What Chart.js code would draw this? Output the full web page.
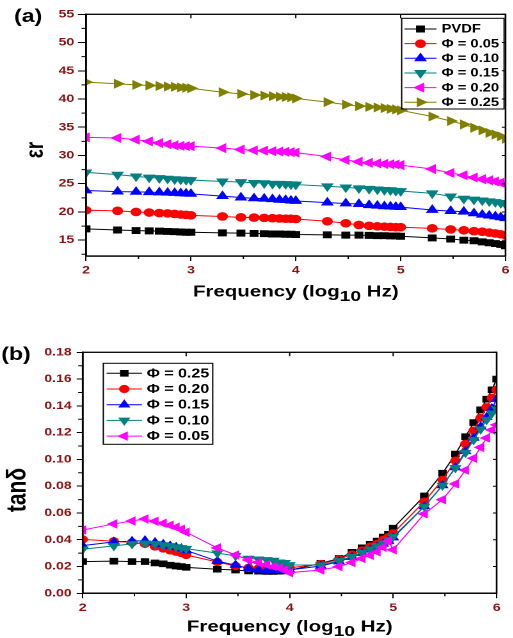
<!DOCTYPE html>
<html>
<head>
<meta charset="utf-8">
<script src="https://cdn.jsdelivr.net/npm/chart.js@4"></script>
<style>
html, body { margin: 0; padding: 0; background: #fff; overflow: hidden; }
.panel { position: absolute; left: 0; transform: scaleX(1.28); transform-origin: 0 0; }
</style>
</head>
<body>
<div class="panel" style="top:0"><canvas id="chartA" width="401" height="310"></canvas></div>
<div class="panel" style="top:310px"><canvas id="chartB" width="401" height="328"></canvas></div>
<script>
// x values: log10 of the measured frequencies
var logFreq = [2, 2.301, 2.477, 2.602, 2.699, 2.778, 2.845, 2.903, 2.954,
	3, 3.301, 3.477, 3.602, 3.699, 3.778, 3.845, 3.903, 3.954,
	4, 4.301, 4.477, 4.602, 4.699, 4.778, 4.845, 4.903, 4.954,
	5, 5.301, 5.477, 5.602, 5.699, 5.778, 5.845, 5.903, 5.954, 6];

// (a) dielectric constant
var epsLabels = ["PVDF", "\u03A6 = 0.05", "\u03A6 = 0.10", "\u03A6 = 0.15", "\u03A6 = 0.20", "\u03A6 = 0.25"];
var epsPVDF = [17.0,16.8,16.7,16.65,16.6,16.55,16.5,16.45,16.4,16.4, 16.3,16.25,16.2,16.15,16.1,16.1,16.05,16.05,16.0,
	15.95,15.9,15.9,15.85,15.8,15.8,15.75,15.75,15.7, 15.4,15.2,15.0,14.9,14.7,14.55,14.4,14.25,14.0];
var eps005 = [20.3,20.2,20.0,19.9,19.8,19.75,19.65,19.55,19.5,19.4, 19.2,19.05,19.0,18.95,18.9,18.85,18.8,18.8,18.75,
	18.35,18.0,17.7,17.55,17.45,17.4,17.35,17.3,17.3, 17.1,16.9,16.75,16.6,16.5,16.35,16.2,16.05,15.9];
var eps010 = [23.8,23.6,23.55,23.5,23.45,23.4,23.35,23.3,23.25,23.2, 22.8,22.55,22.4,22.35,22.25,22.15,22.1,22.0,21.95,
	21.65,21.5,21.4,21.2,21.1,21.0,20.95,20.9,20.85, 20.35,20.15,20.05,19.75,19.5,19.35,19.2,19.05,18.9];
var eps015 = [27.0,26.6,26.3,26.1,26.0,25.9,25.8,25.75,25.7,25.65, 25.4,25.3,25.15,25.1,25.0,25.0,24.95,24.9,24.85,
	24.55,24.35,24.2,24.1,24.0,23.9,23.85,23.75,23.7, 23.3,22.75,22.35,22.2,22.05,21.9,21.75,21.6,21.4];
var eps020 = [33.2,33.1,32.8,32.5,32.2,32.0,31.8,31.7,31.65,31.65, 31.3,31.05,30.9,30.85,30.75,30.7,30.65,30.6,30.5,
	29.8,29.2,28.9,28.7,28.6,28.5,28.45,28.4,28.3, 27.6,26.9,26.5,26.1,25.8,25.6,25.4,25.2,24.9];
var eps025 = [43.0,42.7,42.5,42.4,42.3,42.2,42.15,42.05,42.0,41.9, 41.2,40.9,40.7,40.6,40.5,40.4,40.35,40.3,40.1,
	39.45,39.0,38.75,38.6,38.5,38.4,38.25,38.15,38.0, 36.9,36.1,35.5,34.9,34.45,34.0,33.7,33.4,32.95];

// (b) loss tangent
var tanLabels = ["\u03A6 = 0.25", "\u03A6 = 0.20", "\u03A6 = 0.15", "\u03A6 = 0.10", "\u03A6 = 0.05"];
var tan025 = [0.0237,0.024,0.0237,0.0237,0.0227,0.022,0.021,0.0204,0.020,0.0194, 0.018,0.0174,0.0167,0.0165,0.0163,0.0163,0.0165,0.0167,0.0172,
	0.0224,0.026,0.0306,0.034,0.0366,0.039,0.042,0.044,0.0486, 0.0727,0.0897,0.104,0.117,0.1275,0.137,0.145,0.152,0.160];
var tan020 = [0.0403,0.0389,0.038,0.0369,0.0349,0.0334,0.032,0.031,0.030,0.0286, 0.0234,0.0204,0.019,0.0185,0.018,0.018,0.0182,0.0185,0.019,
	0.0219,0.0254,0.029,0.032,0.0349,0.037,0.040,0.042,0.0448, 0.0685,0.0847,0.099,0.1116,0.1215,0.131,0.139,0.146,0.152];
var tan015 = [0.0356,0.0384,0.0389,0.0394,0.038,0.0366,0.0354,0.0344,0.0334,0.032, 0.024,0.021,0.0187,0.0175,0.017,0.017,0.017,0.0172,0.0175,
	0.0204,0.0237,0.027,0.030,0.0324,0.0346,0.0369,0.039,0.0416, 0.0648,0.0805,0.094,0.106,0.116,0.1245,0.1315,0.138,0.145];
var tan010 = [0.0329,0.0354,0.0369,0.0374,0.0369,0.0361,0.0354,0.0346,0.0339,0.0334, 0.030,0.028,0.026,0.0254,0.025,0.0245,0.0232,0.0228,0.0212,
	0.021,0.0244,0.0274,0.0304,0.033,0.0354,0.0374,0.040,0.0423, 0.0648,0.0805,0.0937,0.105,0.1146,0.1225,0.1295,0.1345,0.138];
var tan005 = [0.0473,0.0518,0.054,0.0555,0.0538,0.0523,0.0508,0.0493,0.0478,0.0456, 0.0339,0.0286,0.0249,0.023,0.0214,0.020,0.019,0.0175,0.0154,
	0.0174,0.0199,0.023,0.026,0.0284,0.031,0.0344,0.039,0.0325, 0.0593,0.070,0.0817,0.092,0.1009,0.109,0.116,0.122,0.1258];

// tick labels
var freqTicks = [2, 3, 4, 5, 6];
var freqMinor = [2.5, 3.5, 4.5, 5.5];
var epsTicks = [15, 20, 25, 30, 35, 40, 45, 50, 55];
var epsMinor = [12.5, 17.5, 22.5, 27.5, 32.5, 37.5, 42.5, 47.5, 52.5];
var tanTicks = [0, 0.02, 0.04, 0.06, 0.08, 0.10, 0.12, 0.14, 0.16, 0.18];
var tanMinor = [0.01, 0.03, 0.05, 0.07, 0.09, 0.11, 0.13, 0.15, 0.17];

var TICK_RED = "#8b1212";
var FONT = "'Liberation Sans', Arial, sans-serif";
Chart.defaults.font.family = FONT;

function pts(ys) {
	return ys.map(function (v, i) { return { x: logFreq[i], y: v }; });
}

function series(label, ys, color, style, rot, r, ord) {
	return {
		label: label,
		data: pts(ys),
		borderColor: color,
		backgroundColor: color,
		pointBackgroundColor: color,
		pointBorderColor: color,
		pointStyle: style,
		pointRotation: rot,
		pointRadius: r,
		pointHoverRadius: r,
		pointBorderWidth: 1,
		borderWidth: 1,
		tension: 0,
		order: ord
	};
}

// frame, minor ticks, titles and boxed legend
var decor = {
	id: "decor",
	afterDraw: function (chart, args, o) {
		var ctx = chart.ctx, a = chart.chartArea;
		var xs = chart.scales.x, ys = chart.scales.y;
		ctx.save();
		ctx.strokeStyle = "#000";
		ctx.lineWidth = 1.3;
		ctx.strokeRect(a.left, a.top, a.right - a.left, a.bottom - a.top);

		ctx.lineWidth = 1;
		ctx.beginPath();
		freqMinor.forEach(function (v) {
			var px = xs.getPixelForValue(v);
			ctx.moveTo(px, a.bottom); ctx.lineTo(px, a.bottom + 3);
		});
		o.yMinor.forEach(function (v) {
			var py = ys.getPixelForValue(v);
			ctx.moveTo(a.left, py); ctx.lineTo(a.left - 3.5, py);
		});
		freqTicks.forEach(function (v) {
			var px = xs.getPixelForValue(v);
			ctx.moveTo(px, a.top); ctx.lineTo(px, a.top + 4);
		});
		o.yTicks.forEach(function (v) {
			var py = ys.getPixelForValue(v);
			ctx.moveTo(a.right, py); ctx.lineTo(a.right - 3, py);
		});
		ctx.stroke();

		// x title with subscript
		ctx.fillStyle = "#000";
		ctx.textBaseline = "middle";
		ctx.textAlign = "left";
		var t1 = "Frequency (log", t2 = "10", t3 = " Hz)";
		ctx.font = "bold 16px " + FONT;
		var w1 = ctx.measureText(t1).width, w3 = ctx.measureText(t3).width;
		ctx.font = "bold 15px " + FONT;
		var w2 = ctx.measureText(t2).width;
		var x0 = (a.left + a.right) / 2 - (w1 + w2 + w3) / 2;
		ctx.font = "bold 16px " + FONT;
		ctx.fillText(t1, x0, o.xTitleY);
		ctx.font = "bold 15px " + FONT;
		ctx.fillText(t2, x0 + w1, o.xTitleY + 5);
		ctx.font = "bold 16px " + FONT;
		ctx.fillText(t3, x0 + w1 + w2, o.xTitleY);

		// y title
		ctx.save();
		ctx.translate(o.yTitle.x, o.yTitle.y);
		ctx.rotate(-Math.PI / 2);
		ctx.textAlign = "center";
		ctx.font = o.yTitle.font;
		ctx.fillText(o.yTitle.text, 0, 0);
		ctx.restore();

		// panel letter
		ctx.textAlign = "center";
		ctx.font = "bold 18px " + FONT;
		ctx.fillText(o.panel.text, o.panel.x, o.panel.y);

		// legend
		var L = o.legend;
		ctx.lineWidth = 1;
		ctx.strokeStyle = "#000";
		ctx.strokeRect(L.left, L.top, L.right - L.left, L.bottom - L.top);
		chart.data.datasets.forEach(function (ds, i) {
			var y = L.y0 + i * L.dy;
			ctx.strokeStyle = ds.borderColor;
			ctx.fillStyle = ds.backgroundColor;
			ctx.beginPath();
			ctx.moveTo(L.x0, y); ctx.lineTo(L.x1, y);
			ctx.stroke();
			Chart.helpers.drawPoint(ctx, {
				pointStyle: ds.pointStyle, rotation: ds.pointRotation,
				radius: ds.pointRadius, borderWidth: 1
			}, (L.x0 + L.x1) / 2, y);
			ctx.fillStyle = "#000";
			ctx.textAlign = "left";
			ctx.font = L.font;
			ctx.fillText(ds.label, L.tx, y + 0.5);
		});
		ctx.restore();
	}
};

function xScale(h) {
	return {
		type: "linear", min: 2, max: 6,
		afterBuildTicks: function (s) { s.ticks = freqTicks.map(function (v) { return { value: v }; }); },
		afterFit: function (s) { s.height = h; },
		grid: { drawOnChartArea: false, drawTicks: true, tickLength: 5, color: "#000", lineWidth: 1 },
		border: { display: true, color: "#000", width: 1.3 },
		ticks: { color: TICK_RED, padding: 3, maxRotation: 0, autoSkip: false, font: { size: 11, weight: "bold" } }
	};
}

function yScale(min, max, tickVals, w, tickLen, pad, fmt) {
	return {
		type: "linear", min: min, max: max,
		afterBuildTicks: function (s) { s.ticks = tickVals.map(function (v) { return { value: v }; }); },
		afterFit: function (s) { s.width = w; },
		grid: { drawOnChartArea: false, drawTicks: true, tickLength: tickLen, color: "#000", lineWidth: 1 },
		border: { display: true, color: "#000", width: 1.3 },
		ticks: { color: TICK_RED, padding: pad, autoSkip: false, font: { size: 11, weight: "bold" }, callback: fmt }
	};
}

new Chart(document.getElementById("chartA"), {
	type: "line",
	data: {
		datasets: [
			series(epsLabels[0], epsPVDF, "#000000", "rect", 0, 4.2, 6),
			series(epsLabels[1], eps005, "#ff0000", "circle", 0, 3.8, 5),
			series(epsLabels[2], eps010, "#0000ff", "triangle", 0, 4.8, 4),
			series(epsLabels[3], eps015, "#008080", "triangle", 180, 4.8, 3),
			series(epsLabels[4], eps020, "#ff00ff", "triangle", 270, 4.8, 2),
			series(epsLabels[5], eps025, "#808000", "triangle", 90, 4.8, 1)
		]
	},
	options: {
		responsive: false,
		animation: false,
		devicePixelRatio: 2,
		layout: { padding: { left: 0, right: 3.3, top: 14.3, bottom: 0 } },
		scales: {
			x: xScale(54),
			y: yScale(12.2, 55, epsTicks, 67.2, 6.3, 2.9, function (v) { return String(v); })
		},
		plugins: {
			legend: { display: false },
			tooltip: { enabled: false },
			decor: {
				yTicks: epsTicks, yMinor: epsMinor, xTitleY: 292,
				yTitle: { text: "\u03B5r", x: 28.5, y: 150, font: "bold 19px " + FONT },
				panel: { text: "(a)", x: 22, y: 17 },
				legend: { left: 313.8, right: 393.8, top: 18.3, bottom: 109, y0: 29, dy: 14.65,
					x0: 316, x1: 341, tx: 345, font: "bold 11.5px " + FONT }
			}
		}
	},
	plugins: [decor]
});

new Chart(document.getElementById("chartB"), {
	type: "line",
	data: {
		datasets: [
			series(tanLabels[0], tan025, "#000000", "rect", 0, 4.0, 5),
			series(tanLabels[1], tan020, "#ff0000", "circle", 0, 3.6, 4),
			series(tanLabels[2], tan015, "#0000ff", "triangle", 0, 4.5, 3),
			series(tanLabels[3], tan010, "#008080", "triangle", 180, 4.5, 2),
			series(tanLabels[4], tan005, "#ff00ff", "triangle", 270, 4.5, 1)
		]
	},
	options: {
		responsive: false,
		animation: false,
		devicePixelRatio: 2,
		layout: { padding: { left: 0, right: 13, top: 42.3, bottom: 0 } },
		scales: {
			x: xScale(44.7),
			y: yScale(0, 0.18, tanTicks, 64.6, 4.7, 3.9, function (v) { return v.toFixed(2); })
		},
		plugins: {
			legend: { display: false },
			tooltip: { enabled: false },
			decor: {
				yTicks: tanTicks, yMinor: tanMinor, xTitleY: 317,
				yTitle: { text: "tan\u03B4", x: 14, y: 180, font: "bold 21px " + FONT },
				panel: { text: "(b)", x: 12.5, y: 45 },
				legend: { left: 80.7, right: 166.2, top: 53.3, bottom: 134.3, y0: 63.3, dy: 15.7,
					x0: 83.3, x1: 110.9, tx: 114.6, font: "bold 12.5px " + FONT }
			}
		}
	},
	plugins: [decor]
});
</script>
</body>
</html>
